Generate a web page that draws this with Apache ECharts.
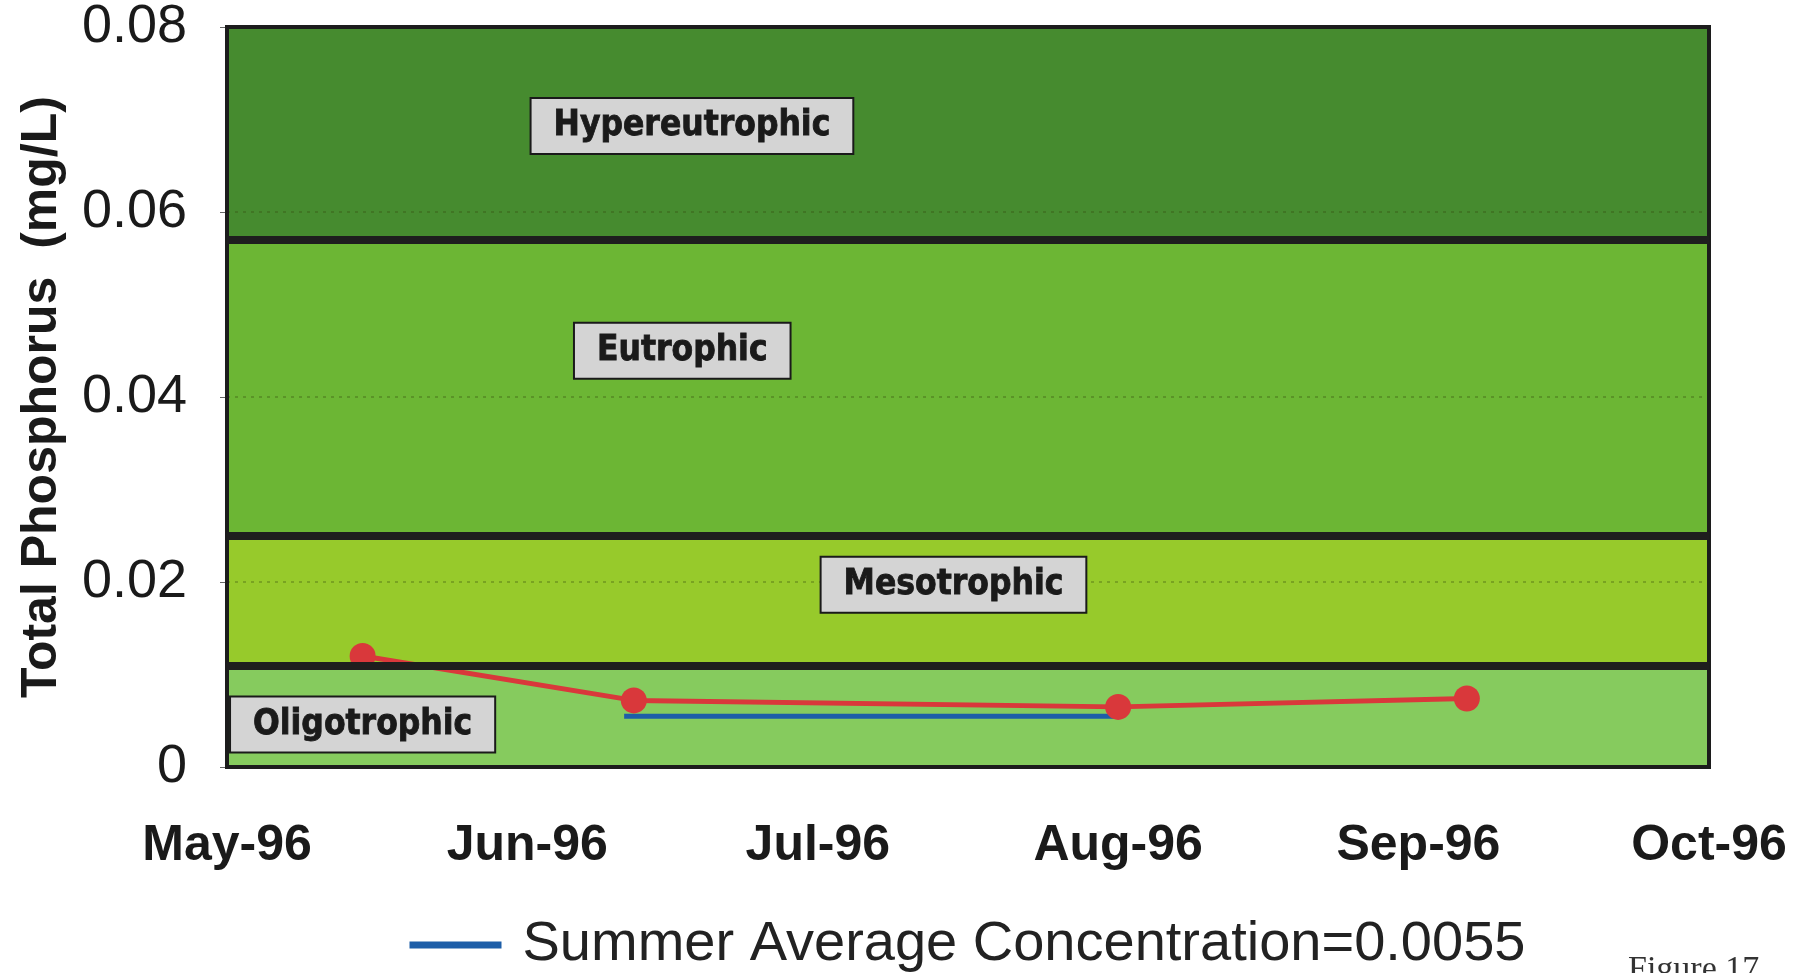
<!DOCTYPE html>
<html>
<head>
<meta charset="utf-8">
<script src="https://cdn.jsdelivr.net/npm/echarts@6/dist/echarts.min.js"></script>
<style>
  html, body { margin: 0; padding: 0; background: #ffffff; }
  #chart { width: 1802px; height: 973px; }
</style>
</head>
<body>
<div id="chart"></div>
<script>
// ---- data ----
const monthTicks = ['1996-05-01', '1996-06-01', '1996-07-01', '1996-08-01', '1996-09-01', '1996-10-01'];
const monthLabels = ['May-96', 'Jun-96', 'Jul-96', 'Aug-96', 'Sep-96', 'Oct-96'];
const sampleDates = ['1996-05-15', '1996-06-12', '1996-08-01', '1996-09-06'];
const tpValues = [0.012, 0.0072, 0.0065, 0.0074];
const summerAvgDates = ['1996-06-11', '1996-08-01'];
const summerAvgValue = 0.0055;
const legendName = 'Summer Average Concentration=0.0055';
const zoneNames = ['Oligotrophic', 'Mesotrophic', 'Eutrophic', 'Hypereutrophic'];
const zoneBounds = [0, 0.011, 0.025, 0.057, 0.08];
const zoneColors = ['#86cb5e', '#97ca2b', '#6cb634', '#468b2f'];
const zoneLabelDates = ['1996-05-15', '1996-07-15', '1996-06-17', '1996-06-18'];
const zoneLabelValues = [0.0046, 0.0197, 0.045, 0.0693];
const yTicks = { min: 0, max: 0.08, interval: 0.02 };

// ---- helpers: dates -> days since first tick ----
function ts(s) {
  const p = s.split('-').map(Number);
  return Date.UTC(p[0], p[1] - 1, p[2]);
}
const t0 = ts(monthTicks[0]);
function day(s) { return Math.round((ts(s) - t0) / 86400000); }
const tickDays = monthTicks.map(day);

const chart = echarts.init(document.getElementById('chart'), null, { renderer: 'canvas' });

const areas = zoneNames.map((n, i) => [
  { yAxis: zoneBounds[i], itemStyle: { color: zoneColors[i] } },
  { yAxis: zoneBounds[i + 1] }
]);
const boundaryLines = zoneBounds.slice(1, zoneBounds.length - 1).map(v => ({ yAxis: v }));

const option = {
  animation: false,
  backgroundColor: '#ffffff',
  grid: {
    left: 227, right: 93, top: 27, bottom: 206,
    show: true, borderColor: '#1c1c1c', borderWidth: 4,
    backgroundColor: 'transparent', z: 5
  },
  legend: {
    data: [legendName],
    left: 401, top: 912,
    itemWidth: 92, itemHeight: 7,
    lineStyle: { width: 7 },
    textStyle: { fontFamily: 'Liberation Sans, Arial, sans-serif', fontSize: 56, color: '#222', padding: [0, 0, 0, 16] },
    selectedMode: false
  },
  xAxis: {
    type: 'value',
    min: tickDays[0],
    max: tickDays[tickDays.length - 1],
    axisLine: { show: false },
    axisTick: { show: false },
    splitLine: { show: false },
    axisLabel: {
      customValues: tickDays,
      margin: 54,
      fontFamily: 'Liberation Sans, Arial, sans-serif',
      fontWeight: 'bold',
      fontSize: 50,
      color: '#1a1a1a',
      hideOverlap: false,
      showMinLabel: true,
      showMaxLabel: true,
      formatter: function (v) {
        const i = tickDays.indexOf(Math.round(v));
        return i >= 0 ? monthLabels[i] : '';
      }
    }
  },
  yAxis: {
    type: 'value',
    min: yTicks.min, max: yTicks.max, interval: yTicks.interval,
    z: 3,
    name: 'Total Phosphorus  (mg/L)',
    nameLocation: 'middle',
    nameGap: 160,
    nameTextStyle: { fontFamily: 'Liberation Sans, Arial, sans-serif', fontWeight: 'bold', fontSize: 50, color: '#1a1a1a' },
    axisLine: { show: false },
    axisTick: { show: true, length: 7, lineStyle: { color: '#666', width: 1 } },
    splitLine: { show: true, lineStyle: { color: 'rgba(50,70,10,0.4)', width: 1.5, type: [3, 5] } },
    axisLabel: {
      margin: 40,
      fontFamily: 'Liberation Sans, Arial, sans-serif',
      fontSize: 54,
      color: '#1a1a1a'
    }
  },
  series: [
    {
      name: 'zones',
      type: 'line',
      data: [],
      silent: true,
      clip: false,
      z: 1,
      markArea: { silent: true, itemStyle: { opacity: 1 }, label: { show: false }, data: areas },
      markLine: {
        silent: true,
        symbol: 'none',
        precision: 5,
        label: { show: false },
        lineStyle: { color: '#1e1e1e', width: 8, type: 'solid' },
        data: boundaryLines
      }
    },
    {
      name: 'Total Phosphorus',
      type: 'line',
      z: 4,
      data: sampleDates.map((d, i) => [day(d), tpValues[i]]),
      symbol: 'circle',
      symbolSize: 26,
      lineStyle: { color: '#d9383b', width: 5 },
      itemStyle: { color: '#d9383b' }
    },
    {
      name: legendName,
      type: 'line',
      z: 3,
      data: summerAvgDates.map(d => [day(d), summerAvgValue]),
      symbol: 'none',
      lineStyle: { color: '#1d5ea8', width: 5 },
      itemStyle: { color: '#1d5ea8' }
    },
    {
      name: 'zoneLabels',
      type: 'scatter',
      z: 6,
      symbolSize: 0,
      silent: true,
      itemStyle: { opacity: 1 },
      data: zoneNames.map((n, i) => ({ value: [day(zoneLabelDates[i]), zoneLabelValues[i]], name: n })),
      label: {
        show: true,
        position: 'inside',
        formatter: '{b}',
        fontFamily: 'Liberation Sans Narrow, DejaVu Sans Condensed, Arial Narrow, sans-serif',
        fontWeight: 'bold',
        fontSize: 35,
        color: '#1a1a1a',
        textBorderColor: '#1a1a1a',
        textBorderWidth: 0.8,
        opacity: 1,
        backgroundColor: '#d4d4d4',
        borderColor: '#1a1a1a',
        borderWidth: 2,
        padding: [10, 22, 9, 22]
      }
    }
  ],
  graphic: [
    {
      type: 'text',
      left: 1628,
      top: 953,
      style: { text: 'Figure 17', font: '34px "Liberation Serif", "Times New Roman", serif', fill: '#333' }
    }
  ]
};

chart.setOption(option);
</script>
</body>
</html>
